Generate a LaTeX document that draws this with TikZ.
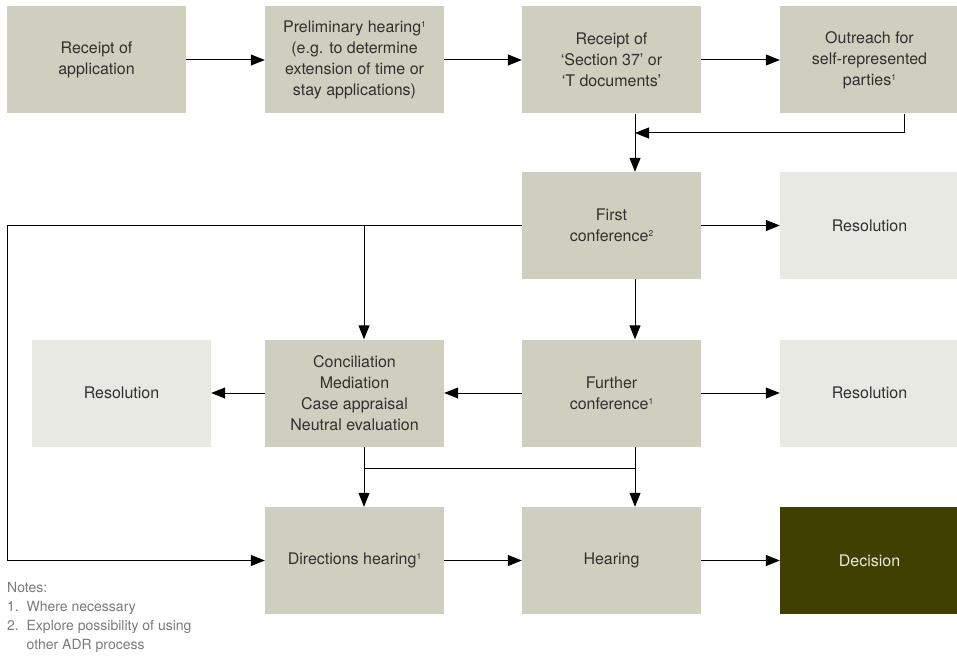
\documentclass[tikz,border=0pt]{standalone}
\usepackage{fontspec}
\setmainfont{TeX Gyre Heros}
\usetikzlibrary{calc, positioning, arrows.meta}
\definecolor{boxgrey}{HTML}{CFCFC0}
\definecolor{boxlight}{HTML}{E9E9E3}
\definecolor{boxdark}{HTML}{404000}
\definecolor{txtgrey}{HTML}{303030}
\definecolor{notegrey}{HTML}{7A7A7A}
\newcommand{\fn}[1]{\raisebox{5pt}{\fontsize{8.5}{8.5}\selectfont #1}}

\begin{document}
\begin{tikzpicture}[x=1pt,y=-1pt,
  stage/.style={rectangle, fill=boxgrey, text=txtgrey, minimum width=179pt, minimum height=107pt,
    inner sep=0pt, align=center, font=\fontsize{16}{21}\selectfont},
  outcome/.style={stage, fill=boxlight},
  verdict/.style={stage, fill=boxdark, text=boxlight},
  flow/.style={line width=1pt, -{Triangle[length=14pt,width=11pt]}},
  link/.style={line width=1pt}]
\useasboundingbox (0,0) rectangle (957,655);

% top row
\node[stage] (app) at (96.5,60) {Receipt of\\application};
\node[stage] (prelim) at (354.5,60) {Preliminary hearing\fn{1}\\(e.g. to determine\\extension of time or\\stay applications)};
\node[stage] (docs) at (611.5,60) {Receipt of\\`Section 37' or\\`T documents'};
\node[stage] (outreach) at (869.5,60) {Outreach for\\self-represented\\parties\fn{1}};

% conferences
\node[stage] (first) at (611.5,225.5) {First\\conference\fn{2}};
\node[outcome] (resA) at (869.5,225.5) {Resolution};
\node[outcome] (resL) at (121.5,393) {Resolution};
\node[stage] (adr) at (354.5,393) {Conciliation\\Mediation\\Case appraisal\\Neutral evaluation};
\node[stage] (further) at (611.5,393) {Further\\conference\fn{1}};
\node[outcome] (resB) at (869.5,393) {Resolution};

% hearings
\node[stage] (dirs) at (354.5,560.5) {Directions hearing\fn{1}};
\node[stage] (hear) at (611.5,560.5) {Hearing};
\node[verdict] (dec) at (869.5,560.5) {Decision};

\coordinate (colL) at (364,0);
\coordinate (colR) at (635,0);
\coordinate (edge) at (7,0);
\coordinate (join) at (635,133);
\coordinate (merge) at (0,468);

\draw[flow] (app) -- (prelim);
\draw[flow] (prelim) -- (docs);
\draw[flow] (docs) -- (outreach);
\draw[flow] (docs.south -| colR) -- (first.north -| colR);
\draw[flow] (outreach.south -| 904,0) |- (join);

\draw[flow] (first) -- (resA);
\draw[flow] (first.south -| colR) -- (further.north -| colR);
\draw[link] (first.west) -- (first.west -| edge);
\draw[flow] (first.west -| edge) |- (dirs.west);
\draw[flow] (first.west -| colL) -- (adr.north -| colL);

\draw[flow] (further) -- (adr);
\draw[flow] (adr) -- (resL);
\draw[flow] (further) -- (resB);

\draw[flow] (adr.south -| colL) -- (dirs.north -| colL);
\draw[link] (merge -| colL) -- (merge -| colR);
\draw[flow] (further.south -| colR) -- (hear.north -| colR);
\draw[flow] (dirs) -- (hear);
\draw[flow] (hear) -- (dec);

% footnotes
\node[anchor=north west, align=left, inner sep=0pt, text=notegrey, font=\fontsize{14}{19}\selectfont] (notes) at (7,582)
  {Notes:\\1.\ \ Where necessary\\2.\ \ Explore possibility of using\\\phantom{2.\ \ }other ADR process};
\end{tikzpicture}
\end{document}
